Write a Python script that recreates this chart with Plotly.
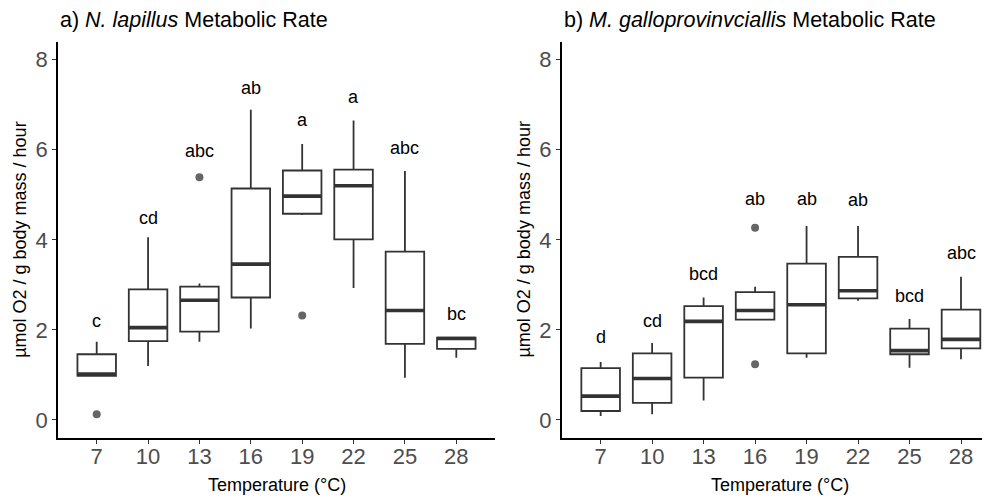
import plotly.graph_objects as go

# ---------------- data ----------------
temps = [7, 10, 13, 16, 19, 22, 25, 28]

# a) N. lapillus
nl_lower = [0.98, 1.20, 1.74, 2.03, 4.55, 2.93, 0.94, 1.38]
nl_q1 = [0.98, 1.75, 1.96, 2.72, 4.58, 4.01, 1.69, 1.58]
nl_median = [1.02, 2.05, 2.66, 3.46, 4.97, 5.20, 2.43, 1.81]
nl_q3 = [1.46, 2.90, 2.96, 5.14, 5.54, 5.56, 3.74, 1.83]
nl_upper = [1.74, 4.06, 3.03, 6.89, 6.13, 6.65, 5.53, 1.84]
nl_out_x = [7, 13, 19]
nl_out_y = [0.13, 5.39, 2.32]
nl_letters = ["c", "cd", "abc", "ab", "a", "a", "abc", "bc"]
nl_letter_y = [2.07, 4.36, 5.84, 7.24, 6.53, 7.04, 5.91, 2.23]

# b) M. galloprovincialis
mg_lower = [0.09, 0.13, 0.43, 2.21, 1.38, 2.65, 1.16, 1.35]
mg_q1 = [0.20, 0.38, 0.94, 2.23, 1.48, 2.70, 1.46, 1.59]
mg_median = [0.53, 0.92, 2.19, 2.43, 2.56, 2.87, 1.54, 1.79]
mg_q3 = [1.15, 1.48, 2.53, 2.84, 3.47, 3.62, 2.03, 2.45]
mg_upper = [1.29, 1.71, 2.72, 2.96, 4.31, 4.31, 2.24, 3.18]
mg_out_x = [16, 16]
mg_out_y = [4.27, 1.24]
mg_letters = ["d", "cd", "bcd", "ab", "ab", "ab", "bcd", "abc"]
mg_letter_y = [1.70, 2.07, 3.10, 4.77, 4.78, 4.75, 2.62, 3.57]

y_ticks = [0, 2, 4, 6, 8]
titles = ["a) <i>N. lapillus</i> Metabolic Rate",
          "b) <i>M. galloprovinvciallis</i> Metabolic Rate"]
y_title = "µmol O2 / g body mass / hour"
x_title = "Temperature (°C)"

# ---------------- style / layout ----------------
FONT = "Arial, Liberation Sans, sans-serif"
BOX_W = 2.25
LINE_C = "#333333"
OFF = 8                      # page body margin of the html page
W, H = 990 - OFF, 498 - OFF  # figure size so the page fits the window


def px(xr):   # reference x pixel -> paper fraction
    return (xr - OFF) / W


def py(yr):   # reference y pixel -> paper fraction
    return 1 - (yr - OFF) / H


fig = go.Figure()


def add_panel(xa, ya, lower, q1, med, q3, upper, ox, oy, letters, ly):
    fig.add_trace(go.Box(
        x=temps, q1=q1, median=med, q3=q3, lowerfence=lower, upperfence=upper,
        width=BOX_W, whiskerwidth=0, fillcolor="white",
        line=dict(color=LINE_C, width=1.8), boxpoints=False,
        xaxis=xa, yaxis=ya, hoverinfo="skip", showlegend=False))
    mx, my = [], []
    for t, m in zip(temps, med):
        mx += [t - BOX_W / 2, t + BOX_W / 2, None]
        my += [m, m, None]
    fig.add_trace(go.Scatter(x=mx, y=my, mode="lines",
                             line=dict(color=LINE_C, width=3.6),
                             xaxis=xa, yaxis=ya, hoverinfo="skip", showlegend=False))
    fig.add_trace(go.Scatter(x=ox, y=oy, mode="markers",
                             marker=dict(color="#666666", size=8),
                             xaxis=xa, yaxis=ya, hoverinfo="skip", showlegend=False))
    ref = "" if xa == "x" else "2"
    for t, lab, yv in zip(temps, letters, ly):
        fig.add_annotation(x=t, y=yv, xref="x" + ref, yref="y" + ref, text=lab,
                           showarrow=False, yanchor="middle", yshift=6,
                           font=dict(family=FONT, size=18, color="black"))


add_panel("x", "y", nl_lower, nl_q1, nl_median, nl_q3, nl_upper,
          nl_out_x, nl_out_y, nl_letters, nl_letter_y)
add_panel("x2", "y2", mg_lower, mg_q1, mg_median, mg_q3, mg_upper,
          mg_out_x, mg_out_y, mg_letters, mg_letter_y)

left_dom = [px(58), px(495)]
right_dom = [px(561.7), 1.0]
y_dom = [py(438), py(41.7)]

axis_common = dict(showgrid=False, zeroline=False, showline=True, linecolor="black",
                   linewidth=1.8, ticks="outside", ticklen=4, tickwidth=1.4,
                   tickcolor=LINE_C, tickfont=dict(family=FONT, size=22, color="#4d4d4d"))

fig.update_layout(
    width=W, height=H, margin=dict(l=0, r=0, t=0, b=0),
    paper_bgcolor="white", plot_bgcolor="white", boxmode="overlay",
    xaxis=dict(domain=left_dom, range=[4.74, 30.26], tickvals=temps, anchor="y", **axis_common),
    yaxis=dict(domain=y_dom, range=[-0.4, 8.4], tickvals=y_ticks, anchor="x", **axis_common),
    xaxis2=dict(domain=right_dom, range=[4.73, 29.69], tickvals=temps, anchor="y2", **axis_common),
    yaxis2=dict(domain=y_dom, range=[-0.4, 8.4], tickvals=y_ticks, anchor="x2", **axis_common),
)
try:
    fig.update_xaxes(ticklabelstandoff=-6)
except Exception:
    pass

# titles and axis titles
for x0, ttl in zip([58, 561.7], titles):
    fig.add_annotation(x=px(x0), y=py(20), xref="paper", yref="paper", text=ttl,
                       showarrow=False, xanchor="left", yanchor="middle",
                       font=dict(family=FONT, size=21.5, color="black"))
    fig.add_annotation(x=px(x0 + (495 - 58) / 2), y=py(485),
                       xref="paper", yref="paper", text=x_title, showarrow=False,
                       xanchor="center", yanchor="middle",
                       font=dict(family=FONT, size=18, color="black"))
    fig.add_annotation(x=px(x0 - 38), y=(y_dom[0] + y_dom[1]) / 2, xref="paper",
                       yref="paper", text=y_title, showarrow=False, textangle=-90,
                       xanchor="center", yanchor="middle",
                       font=dict(family=FONT, size=18, color="black"))

fig.write_html("out.html")
